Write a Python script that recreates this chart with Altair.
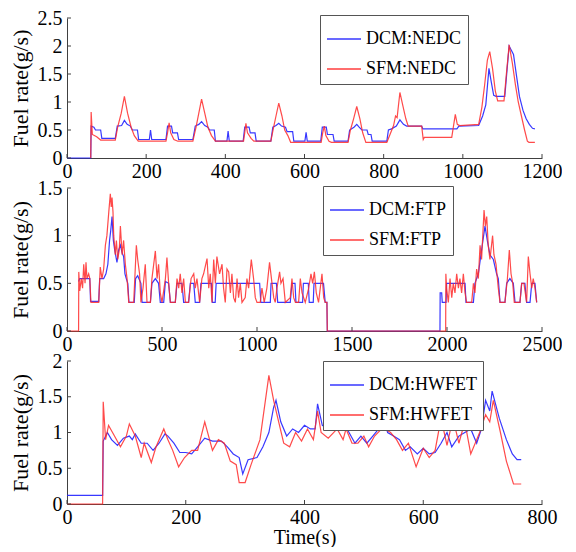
import altair as alt
import pandas as pd

FONT = "Liberation Serif"
BLUE = "#2222ff"
RED = "#ff2a2a"
AXC = "#404040"

# ---------------- NEDC ----------------
nedc_dcm_t = [0, 60, 61, 68, 72, 85, 88, 122, 127, 138, 145, 152, 160, 165, 178, 181, 208, 211, 214, 250,
              254, 264, 267, 279, 282, 318, 324, 333, 340, 348, 356, 360, 372, 375, 404, 407, 410, 445, 449, 460,
              463, 475, 478, 515, 520, 528, 535, 542, 552, 556, 570, 573, 601, 604, 607, 641, 645, 655, 658, 672,
              675, 710, 714, 725, 732, 738, 745, 758, 761, 768, 771, 808, 812, 820, 832, 841, 850, 858, 896, 899,
              985, 990, 1040, 1050, 1058, 1066, 1072, 1078, 1084, 1106, 1112, 1117, 1128, 1136, 1143, 1152, 1160,
              1168, 1176, 1182]
nedc_dcm_v = [0, 0, 0.57, 0.55, 0.5, 0.5, 0.35, 0.35, 0.57, 0.58, 0.67, 0.6, 0.57, 0.5, 0.5, 0.33, 0.33, 0.5, 0.33, 0.33,
              0.57, 0.57, 0.45, 0.45, 0.33, 0.33, 0.57, 0.6, 0.65, 0.58, 0.55, 0.5, 0.5, 0.3, 0.3, 0.48, 0.3, 0.3, 0.55, 0.55,
              0.45, 0.45, 0.3, 0.3, 0.55, 0.58, 0.62, 0.57, 0.55, 0.47, 0.47, 0.3, 0.3, 0.46, 0.3, 0.3, 0.55, 0.55, 0.42, 0.42,
              0.3, 0.3, 0.5, 0.55, 0.6, 0.55, 0.5, 0.5, 0.42, 0.42, 0.3, 0.3, 0.5, 0.52, 0.57, 0.68, 0.6, 0.57, 0.57, 0.52,
              0.52, 0.57, 0.58, 0.75, 0.95, 1.6, 1.35, 1.12, 1.1, 1.1, 1.6, 2.0, 1.85, 1.45, 1.1, 0.85, 0.7,
              0.6, 0.53, 0.52]
nedc_sfm_t = [60, 61, 64, 75, 85, 122, 128, 137, 145, 153, 162, 170, 180, 250, 254, 258, 262, 270, 280, 318,
              326, 333, 340, 348, 356, 365, 375, 446, 449, 452, 456, 465, 472, 515, 522, 528, 535, 543, 550, 558,
              565, 642, 646, 650, 654, 662, 668, 710, 716, 724, 732, 740, 747, 755, 808, 815, 825, 830, 834, 841,
              848, 856, 862, 896, 900, 903, 972, 976, 981, 986, 992, 1040, 1048, 1055, 1062, 1068, 1075, 1082, 1088,
              1104, 1110, 1117, 1125, 1133, 1140, 1148, 1156, 1163, 1167, 1182]
nedc_sfm_v = [0, 0.82, 0.42, 0.38, 0.32, 0.32, 0.55, 0.8, 1.1, 0.8, 0.55, 0.4, 0.3, 0.3, 0.45, 0.63, 0.45, 0.33, 0.3, 0.3,
              0.55, 0.8, 1.05, 0.8, 0.55, 0.4, 0.3, 0.3, 0.45, 0.62, 0.45, 0.35, 0.3, 0.3, 0.55, 0.75, 0.98, 0.75, 0.5, 0.4,
              0.28, 0.28, 0.45, 0.57, 0.4, 0.3, 0.28, 0.28, 0.5, 0.7, 0.92, 0.7, 0.45, 0.28, 0.28, 0.4, 0.58, 0.75, 0.72, 1.17,
              0.95, 0.7, 0.57, 0.57, 0.33, 0.37, 0.37, 0.55, 0.78, 0.6, 0.58, 0.6, 0.9, 1.3, 1.75, 1.9, 1.6, 1.2, 1.02,
              1.02, 1.5, 2.02, 1.7, 1.3, 1.0, 0.75, 0.5, 0.3, 0.28, 0.28]

# ---------------- FTP ----------------
ftp_dcm_t = [61, 67, 120, 124, 167, 172, 193, 205, 215, 224, 230, 237, 244, 251, 263, 272, 281, 290, 298, 305,
             312, 320, 326, 354, 361, 372, 389, 395, 439, 447, 465, 482, 491, 509, 518, 535, 544, 570, 579, 605,
             614, 640, 649, 667, 675, 698, 705, 760, 765, 780, 785, 1014, 1020, 1070, 1074, 1102, 1109, 1175, 1184,
             1200, 1205, 1240, 1244, 1270, 1275, 1296, 1300, 1350, 1359, 1368, 1370, 1963, 1964, 1972, 1975, 1995,
             1998, 2095, 2100, 2139, 2147, 2165, 2182, 2200, 2212, 2226, 2244, 2261, 2270, 2279, 2305, 2314, 2331,
             2349, 2358, 2384, 2393, 2410, 2419, 2437, 2446, 2463, 2472]
ftp_dcm_v = [0.52, 0.55, 0.55, 0.31, 0.31, 0.55, 0.55, 0.6, 0.7, 0.95, 1.05, 1.2, 0.95, 0.85, 0.72, 0.85, 0.9, 0.82, 0.78, 0.6,
             0.55, 0.5, 0.3, 0.3, 0.55, 0.58, 0.5, 0.3, 0.3, 0.5, 0.55, 0.5, 0.3, 0.3, 0.52, 0.5, 0.3, 0.3, 0.5, 0.5,
             0.3, 0.3, 0.5, 0.5, 0.3, 0.3, 0.5, 0.5, 0.3, 0.3, 0.5, 0.5, 0.3, 0.3, 0.5, 0.5, 0.3, 0.3, 0.5,
             0.5, 0.3, 0.3, 0.5, 0.5, 0.3, 0.3, 0.5, 0.5, 0.3, 0.3, 0.0, 0.0, 0.4, 0.4, 0.3, 0.3,
             0.5, 0.5, 0.3, 0.3, 0.5, 0.6, 0.85, 1.1, 0.95, 0.8, 0.75, 0.6, 0.55, 0.3, 0.3, 0.5, 0.55,
             0.5, 0.3, 0.3, 0.5, 0.5, 0.3, 0.3, 0.5, 0.5, 0.3]
ftp_sfm_t = [0, 61, 62, 67, 75, 82, 88, 95, 100, 105, 114, 120, 126, 167, 175, 184, 193, 202, 210, 220,
             228, 233, 237, 242, 246, 254, 260, 267, 275, 281, 290, 298, 307, 316, 325, 351, 365, 372, 382, 389,
             400, 412, 421, 439, 447, 465, 474, 482, 491, 500, 518, 526, 535, 544, 570, 579, 588, 596, 605, 614,
             623, 640, 653, 667, 675, 684, 698, 710, 719, 737, 746, 754, 763, 772, 781, 789, 803, 816, 824, 833,
             842, 851, 860, 868, 877, 886, 895, 903, 912, 921, 938, 947, 956, 970, 982, 991, 1000, 1017, 1026, 1038,
             1052, 1066, 1079, 1088, 1096, 1105, 1119, 1126, 1137, 1149, 1175, 1184, 1193, 1202, 1219, 1228, 1237,
             1254, 1272, 1284, 1293, 1302, 1312, 1324, 1333, 1342, 1351, 1359, 1368, 1370, 1993, 1994, 1998, 2007,
             2016, 2025, 2033, 2042, 2051, 2060, 2068, 2077, 2086, 2095, 2103, 2130, 2139, 2147, 2156, 2165, 2174,
             2182, 2195, 2202, 2209, 2217, 2226, 2240, 2247, 2258, 2265, 2270, 2279, 2305, 2318, 2328, 2337, 2346,
             2354, 2384, 2393, 2405, 2419, 2428, 2437, 2446, 2454, 2463, 2472]
ftp_sfm_v = [0, 0, 0.62, 0.42, 0.55, 0.45, 0.7, 0.5, 0.72, 0.55, 0.6, 0.55, 0.3, 0.3, 0.67, 0.55, 0.65, 0.9, 1.0, 1.25,
             1.44, 1.3, 1.4, 1.25, 1.0, 0.8, 0.95, 0.75, 0.85, 1.1, 0.8, 0.95, 0.7, 0.55, 0.3, 0.3, 0.9, 0.75, 0.6, 0.3,
             0.45, 0.7, 0.3, 0.3, 0.55, 0.84, 0.55, 0.7, 0.4, 0.3, 0.55, 0.77, 0.5, 0.3, 0.3, 0.55, 0.45, 0.6, 0.4, 0.55,
             0.3, 0.3, 0.55, 0.6, 0.45, 0.55, 0.3, 0.55, 0.6, 0.76, 0.45, 0.6, 0.3, 0.75, 0.5, 0.78, 0.6, 0.7, 0.45, 0.3,
             0.65, 0.62, 0.4, 0.6, 0.35, 0.3, 0.55, 0.35, 0.5, 0.3, 0.35, 0.55, 0.45, 0.75, 0.55, 0.35, 0.3, 0.3, 0.45, 0.3,
             0.45, 0.72, 0.5, 0.35, 0.3, 0.45, 0.62, 0.5, 0.55, 0.3, 0.35, 0.55, 0.35, 0.3, 0.3, 0.55, 0.4,
             0.3, 0.45, 0.6, 0.5, 0.62, 0.4, 0.3, 0.45, 0.6, 0.35, 0.3, 0.3, 0.0, 0.0, 0.6, 0.45, 0.3,
             0.55, 0.35, 0.5, 0.4, 0.6, 0.45, 0.55, 0.4, 0.6, 0.4, 0.3, 0.3, 0.5, 0.4, 0.65, 0.55, 0.9,
             0.75, 1.27, 1.1, 1.2, 0.9, 0.75, 1.0, 0.8, 0.7, 0.55, 0.45, 0.3, 0.3, 0.55, 0.85, 0.6, 0.5,
             0.3, 0.3, 0.5, 0.5, 0.3, 0.78, 0.6, 0.45, 0.55, 0.45, 0.3]

# ---------------- HWFET ----------------
hw_dcm_t = [0, 60, 61, 68, 75, 85, 95, 105, 110, 115, 125, 135, 145, 155, 165, 170, 180, 190, 200, 210,
            220, 232, 245, 260, 270, 280, 290, 296, 305, 320, 330, 340, 348, 352, 360, 370, 380, 390, 400, 410,
            418, 422, 430, 440, 455, 465, 475, 485, 495, 505, 515, 525, 535, 540, 550, 560, 570, 578, 590, 600,
            610, 620, 630, 640, 648, 660, 670, 680, 690, 698, 705, 712, 716, 728, 740, 750, 758, 765]
hw_dcm_v = [0.12, 0.12, 0.88, 1.0, 0.9, 0.82, 0.92, 0.95, 0.9, 0.98, 0.85, 0.85, 0.75, 0.85, 0.98, 0.95, 0.85, 0.72, 0.72, 0.7,
            0.8, 0.92, 0.88, 0.88, 0.8, 0.7, 0.65, 0.42, 0.62, 0.65, 0.8, 1.0, 1.35, 1.45, 1.15, 0.95, 1.05, 1.0, 1.1, 1.05,
            1.05, 1.4, 1.1, 1.05, 1.1, 1.15, 1.0, 0.85, 0.95, 0.85, 0.95, 1.05, 1.15, 1.0, 0.95, 0.9, 0.75, 0.8, 0.7, 0.78,
            0.7, 0.72, 0.85, 1.0, 0.8, 0.95, 1.0, 1.05, 0.85, 1.05, 1.45, 1.3, 1.58, 1.2, 0.9, 0.7, 0.62, 0.62]
hw_sfm_t = [0, 60, 61, 65, 70, 80, 90, 100, 105, 115, 125, 130, 142, 150, 163, 170, 178, 188, 198, 210,
            220, 232, 245, 255, 265, 275, 285, 290, 300, 310, 325, 340, 348, 355, 365, 375, 385, 395, 405, 415,
            422, 428, 440, 455, 465, 470, 480, 490, 500, 508, 518, 530, 535, 545, 555, 565, 575, 588, 600, 610,
            620, 630, 640, 650, 660, 670, 680, 695, 705, 712, 718, 730, 740, 752, 765]
hw_sfm_v = [0, 0, 1.43, 0.9, 1.1, 0.95, 0.8, 0.95, 1.12, 0.95, 0.65, 0.85, 0.58, 0.8, 1.05, 0.9, 0.75, 0.52, 0.65, 0.75,
            0.75, 1.15, 0.75, 0.9, 0.85, 0.6, 0.55, 0.3, 0.3, 0.55, 0.9, 1.8, 1.45, 1.2, 0.85, 0.8, 1.0, 0.88, 1.05, 0.9,
            1.3, 1.0, 0.92, 1.05, 0.9, 1.05, 0.85, 0.85, 0.95, 0.8, 0.95, 1.05, 1.05, 1.0, 0.9, 0.75, 0.85, 0.52, 0.78, 0.65,
            0.75, 1.2, 0.82, 1.2, 0.85, 1.15, 0.7, 1.0, 1.25, 1.15, 1.45, 1.0, 0.6, 0.28, 0.28]

NEDC_NAMES = ["DCM:NEDC", "SFM:NEDC"]
FTP_NAMES = ["DCM:FTP", "SFM:FTP"]
HW_NAMES = ["DCM:HWFET", "SFM:HWFET"]

W = 475


def panel(dcm_t, dcm_v, sfm_t, sfm_v, names, xmax, xstep, ymax, h, lx, ly, xtitle):
    dcm = pd.DataFrame({"t": dcm_t, "v": dcm_v, "s": names[0]})
    sfm = pd.DataFrame({"t": sfm_t, "v": sfm_v, "s": names[1]})
    xticks = list(range(0, xmax + 1, xstep))
    yticks = [i * 0.5 for i in range(int(round(ymax / 0.5)) + 1)]
    xkw = dict(values=xticks, format="d", labelFlush=False, labelOverlap=False,
               labelPadding=3, titlePadding=0, titleFontSize=20,
               labelFont=FONT, labelFontSize=20, titleFont=FONT, titleFontWeight="normal",
               labelColor="black", titleColor="black", tickSize=0, domainColor=AXC, grid=False)
    if xtitle:
        xkw["title"] = xtitle
    else:
        xkw["title"] = None
    X = alt.X("t:Q", scale=alt.Scale(domain=[0, xmax], nice=False, zero=True), axis=alt.Axis(**xkw))
    Y = alt.Y("v:Q", scale=alt.Scale(domain=[0, ymax], nice=False),
              axis=alt.Axis(values=yticks, format="~g", title="Fuel rate(g/s)", titleFontSize=22,
                            labelPadding=5, titlePadding=5, labelOverlap=False,
                            labelFont=FONT, labelFontSize=20, titleFont=FONT, titleFontWeight="normal",
                            labelColor="black", titleColor="black", tickSize=0, domainColor=AXC, grid=False))
    color = alt.Color("s:N", scale=alt.Scale(domain=names, range=[BLUE, RED]),
                      legend=alt.Legend(orient="none", legendX=lx, legendY=ly, title=None,
                                        symbolType="stroke", symbolSize=1156, symbolStrokeWidth=1.5,
                                        labelFont=FONT, labelFontSize=18, labelOffset=4, padding=6,
                                        rowPadding=3, strokeColor="#555555", fillColor="white",
                                        labelLimit=300))
    l1 = alt.Chart(dcm).mark_line(strokeWidth=1.2, opacity=0.9).encode(x=X, y=Y, color=color)
    l2 = alt.Chart(sfm).mark_line(strokeWidth=1.2, opacity=0.85).encode(x=X, y=Y, color=color)
    xt = alt.Chart(pd.DataFrame({"t": xticks})).mark_rule(color=AXC, strokeWidth=1).encode(
        x=X, y=alt.value(h), y2=alt.value(h - 4))
    yt = alt.Chart(pd.DataFrame({"v": yticks})).mark_rule(color=AXC, strokeWidth=1).encode(
        y=Y, x=alt.value(0), x2=alt.value(4))
    return alt.layer(l1, l2, xt, yt).properties(width=W, height=h)


p1 = panel(nedc_dcm_t, nedc_dcm_v, nedc_sfm_t, nedc_sfm_v, NEDC_NAMES, 1200, 200, 2.5, 140, 253, -3, "")
p2 = panel(ftp_dcm_t, ftp_dcm_v, ftp_sfm_t, ftp_sfm_v, FTP_NAMES, 2500, 500, 1.5, 143, 256, -2, "")
p3 = panel(hw_dcm_t, hw_dcm_v, hw_sfm_t, hw_sfm_v, HW_NAMES, 800, 200, 2.0, 143, 256, 0, "Time(s)")

chart = alt.vconcat(p1, p2, p3, spacing=30, bounds="flush").resolve_scale(
    color="independent", x="independent", y="independent"
).properties(
    padding={"left": 0, "top": 0, "right": 0, "bottom": 0},
    background="white"
).configure_view(stroke=None).configure_axis(
    grid=False, domainColor=AXC, domainWidth=1, tickSize=0,
    labelFont=FONT, labelFontSize=20, labelColor="black",
    titleFont=FONT, titleColor="black", titleFontWeight="normal"
).configure_legend(labelFont=FONT, labelFontSize=18)

chart.save("out.html", embed_options={"renderer": "svg", "actions": False})
